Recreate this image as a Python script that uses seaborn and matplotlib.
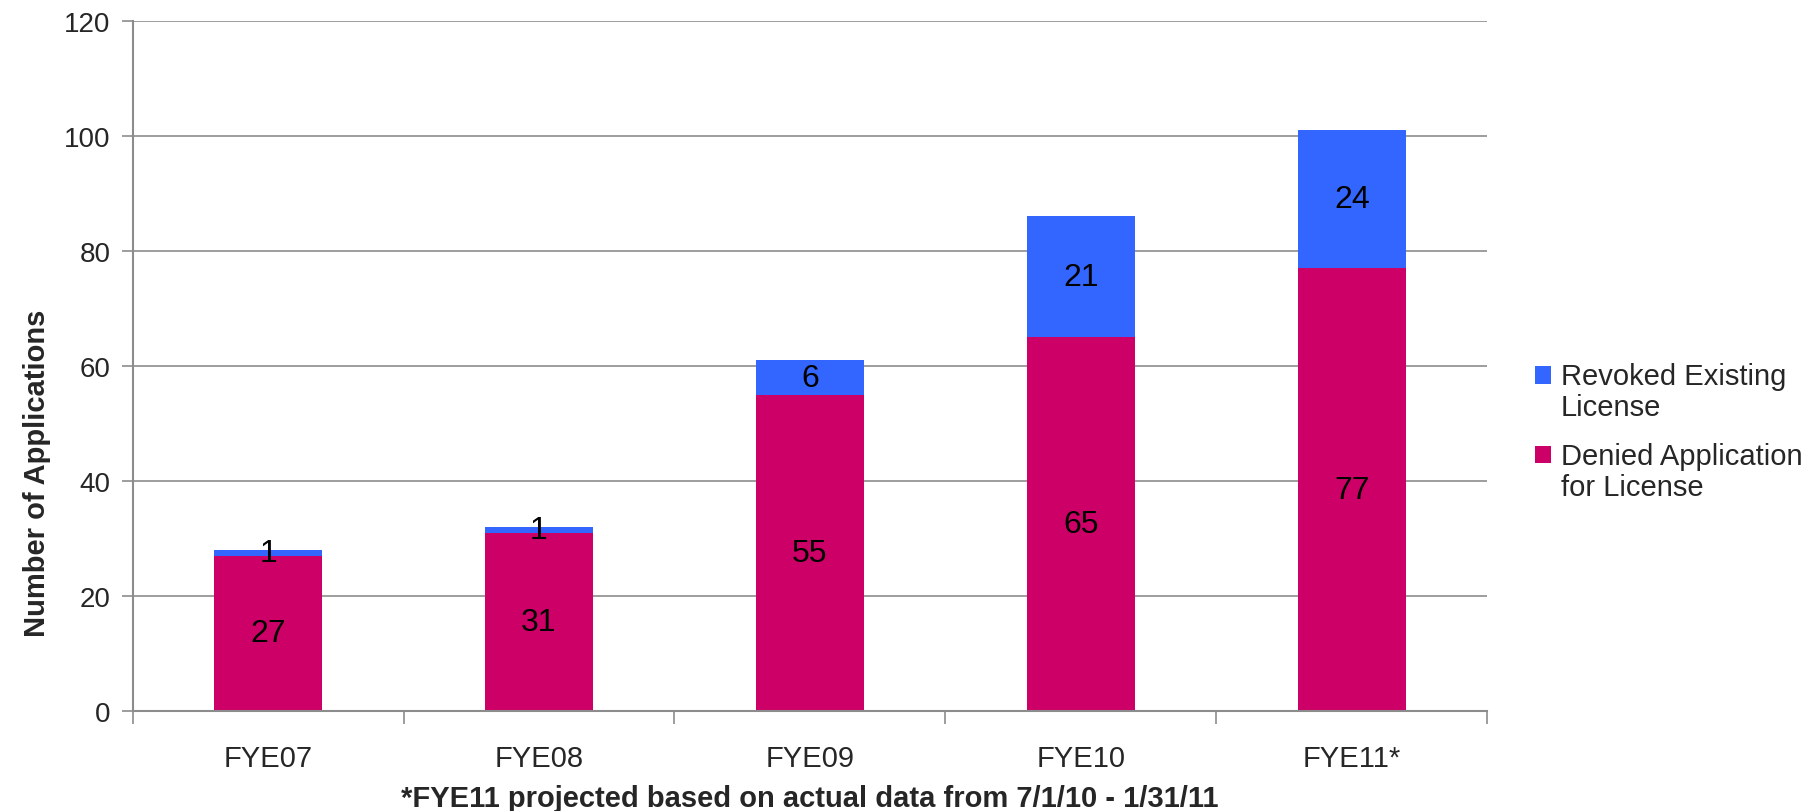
import matplotlib
matplotlib.use("Agg")
import matplotlib.pyplot as plt
from matplotlib import font_manager
from matplotlib.patches import Rectangle
from matplotlib.legend_handler import HandlerPatch
import seaborn as sns
import pandas as pd

years = ["FYE07", "FYE08", "FYE09", "FYE10", "FYE11*"]
denied = [27, 31, 55, 65, 77]
revoked = [1, 1, 6, 21, 24]
y_ticks = [0, 20, 40, 60, 80, 100, 120]

BLUE = "#3366FF"
MAGENTA = "#CC0066"
GRID = "#8C8C8C"
FS = 21

sns.set_theme(style="white")
names = {f.name for f in font_manager.fontManager.ttflist}
narrow = "Liberation Sans Narrow" if "Liberation Sans Narrow" in names else "Liberation Sans"
plt.rcParams["font.family"] = ["Liberation Sans", "DejaVu Sans"]

df = pd.DataFrame({"year": years, "denied": denied, "revoked": revoked})
df["total"] = df["denied"] + df["revoked"]

fig = plt.figure(figsize=(18.16, 8.12), dpi=100)
ax = fig.add_axes([0.073, 0.123, 0.746, 0.850])

sns.barplot(data=df, x="year", y="total", color=BLUE, width=0.4,
            saturation=1, ax=ax, label="Revoked Existing\nLicense", linewidth=0)
sns.barplot(data=df, x="year", y="denied", color=MAGENTA, width=0.4,
            saturation=1, ax=ax, label="Denied Application\nfor License", linewidth=0)

# segment value labels
for i, (d, r) in enumerate(zip(denied, revoked)):
    ax.text(i, d / 2, str(d), ha="center", va="center", fontsize=23, color="black")
    ax.text(i, d + r / 2, str(r), ha="center", va="center", fontsize=23, color="black")

ax.set_ylim(0, 120)
ax.set_xlim(-0.5, len(years) - 0.5)
ax.set_yticks(y_ticks)
ax.set_yticklabels([str(t) for t in y_ticks], fontsize=20)
ax.yaxis.grid(True, color=GRID, linewidth=1.2)
ax.set_axisbelow(True)

# category labels sit between boundary tick marks
ax.set_xticks(range(len(years)))
ax.set_xticklabels(years, fontsize=FS, family=narrow)
ax.tick_params(axis="x", which="major", length=0, pad=24)
ax.set_xticks([i - 0.5 for i in range(len(years) + 1)], minor=True)
ax.tick_params(axis="x", which="minor", bottom=True, length=9, width=1.2,
               color=GRID, direction="out")
ax.tick_params(axis="y", left=True, length=8, width=1.2, color=GRID,
               direction="out", pad=8)

for side in ["top", "right"]:
    ax.spines[side].set_visible(False)
for side in ["left", "bottom"]:
    ax.spines[side].set_color(GRID)
    ax.spines[side].set_linewidth(1.5)

ax.set_ylabel("Number of Applications", fontsize=FS, fontweight="bold",
              family=narrow)
ax.yaxis.set_label_coords(-0.060, 0.346)
ax.set_xlabel("*FYE11 projected based on actual data from 7/1/10 - 1/31/11",
              fontsize=FS, fontweight="bold", family=narrow, labelpad=8)


def top_square(legend, orig_handle, xdescent, ydescent, width, height, fontsize):
    # keep the colour square level with the first line of a two-line label
    return Rectangle((-xdescent, -ydescent + 0.6 * fontsize), width, height)


handles, labels = ax.get_legend_handles_labels()
handles = [h.patches[0] if hasattr(h, "patches") else h for h in handles]
leg = ax.legend(handles, labels, loc="center left", bbox_to_anchor=(1.0155, 0.405),
                frameon=False, fontsize=FS, handlelength=0.55, handleheight=0.55,
                handletextpad=0.35, labelspacing=0.7,
                handler_map={Rectangle: HandlerPatch(patch_func=top_square)})
for t in leg.get_texts():
    t.set_linespacing(1.15)

fig.savefig("out.png", dpi=100)
